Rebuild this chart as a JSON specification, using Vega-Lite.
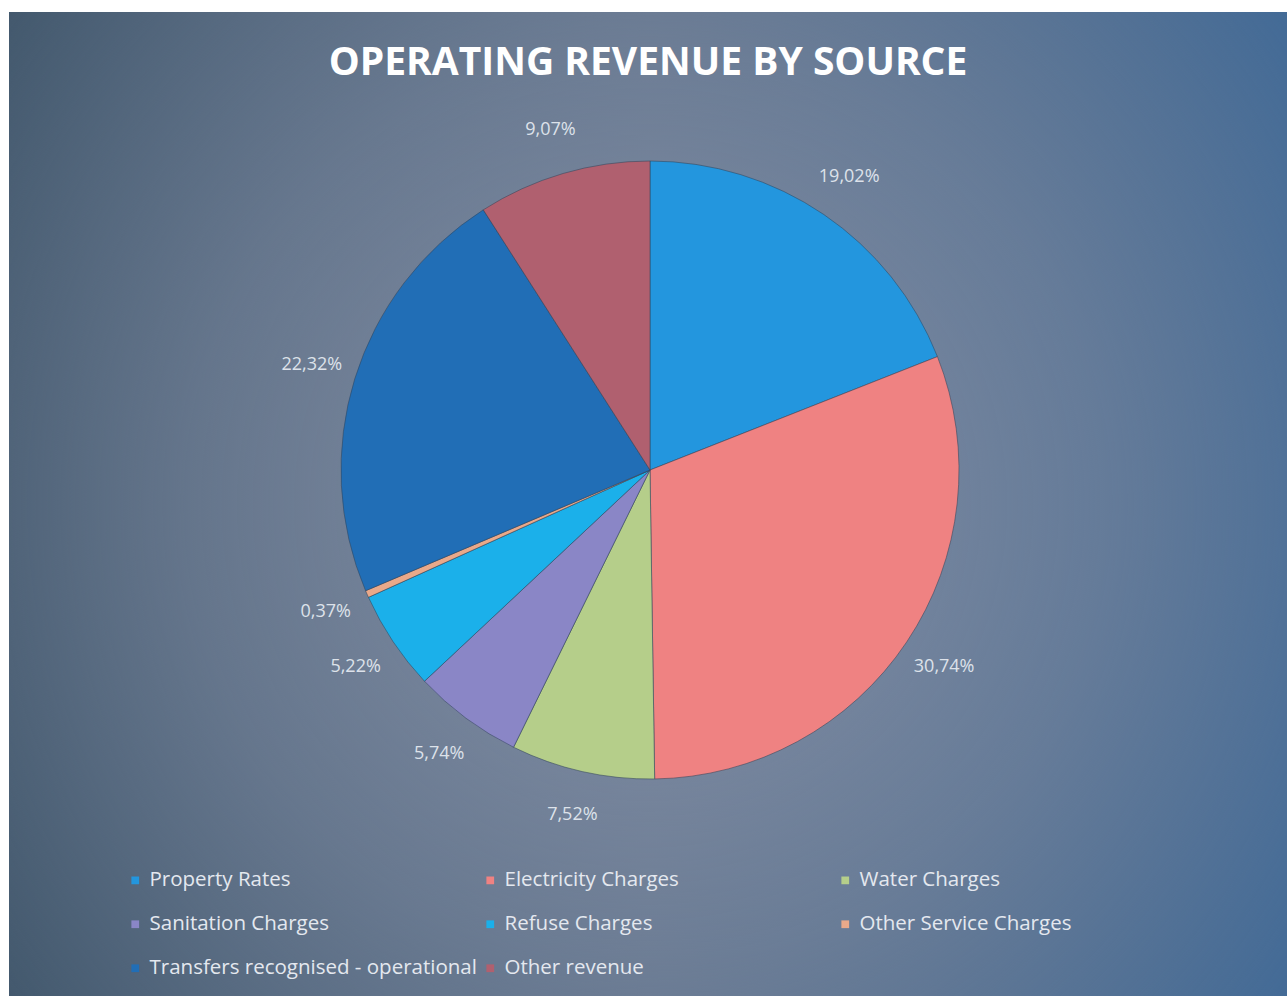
{
  "$schema": "https://vega.github.io/schema/vega-lite/v6.json",
  "autosize": {"type": "none"},
  "width": 1278,
  "height": 984,
  "padding": {"left": 9, "top": 12, "right": 0, "bottom": 0},
  "background": "#ffffff",
  "title": {
    "text": "OPERATING REVENUE BY SOURCE",
    "font": "Open Sans",
    "fontSize": 39,
    "fontWeight": "bold",
    "color": "#ffffff",
    "anchor": "middle",
    "offset": -71
  },
  "datasets": {
    "rev": [
      {"source": "Property Rates", "pct": 19.02, "label": "19,02%", "order": 1},
      {"source": "Electricity Charges", "pct": 30.74, "label": "30,74%", "order": 2},
      {"source": "Water Charges", "pct": 7.52, "label": "7,52%", "order": 3},
      {"source": "Sanitation Charges", "pct": 5.74, "label": "5,74%", "order": 4},
      {"source": "Refuse Charges", "pct": 5.22, "label": "5,22%", "order": 5},
      {"source": "Other Service Charges", "pct": 0.37, "label": "0,37%", "order": 6},
      {"source": "Transfers recognised - operational", "pct": 22.32, "label": "22,32%", "order": 7},
      {"source": "Other revenue", "pct": 9.07, "label": "9,07%", "order": 8}
    ]
  },
  "layer": [
    {
      "data": {"values": [{"bg": 1}]},
      "mark": {
        "type": "rect",
        "fill": {
          "gradient": "linear", "x1": 0, "y1": 0.5, "x2": 1, "y2": 0.5,
          "stops": [
            {"offset": 0, "color": "#3b5266"},
            {"offset": 0.5, "color": "#5a6f88"},
            {"offset": 1, "color": "#3b6796"}
          ]
        }
      },
      "encoding": {}
    },
    {
      "data": {"values": [{"bg": 1}]},
      "mark": {
        "type": "rect",
        "fill": {
          "gradient": "radial", "x1": 0.5, "y1": 0.5, "r1": 0, "x2": 0.5, "y2": 0.5, "r2": 0.72,
          "stops": [
            {"offset": 0, "color": "rgba(135,146,168,0.95)"},
            {"offset": 0.5, "color": "rgba(122,135,158,0.6)"},
            {"offset": 1, "color": "rgba(110,125,150,0)"}
          ]
        }
      },
      "encoding": {}
    },
    {
      "data": {"name": "rev"},
      "mark": {"type": "arc", "outerRadius": 309, "stroke": "#34465c", "strokeWidth": 0.8, "strokeOpacity": 0.7, "xOffset": 2, "yOffset": -34},
      "encoding": {
        "theta": {"field": "pct", "type": "quantitative", "stack": true},
        "order": {"field": "order", "type": "quantitative"},
        "color": {
          "field": "source", "type": "nominal",
          "scale": {
            "domain": ["Property Rates", "Electricity Charges", "Water Charges", "Sanitation Charges", "Refuse Charges", "Other Service Charges", "Transfers recognised - operational", "Other revenue"],
            "range": ["#2396de", "#ef8282", "#b5ce8a", "#8a86c6", "#1bb0ea", "#e9a98a", "#216eb6", "#b0606f"]
          },
          "legend": {
            "title": null,
            "orient": "none",
            "legendX": 116,
            "legendY": 858,
            "direction": "horizontal",
            "columns": 3,
            "gridAlign": "all",
            "columnPadding": 3,
            "rowPadding": 23,
            "padding": 0,
            "symbolType": "square",
            "symbolSize": 60,
            "symbolStrokeWidth": 0,
            "symbolOffset": 0,
            "labelOffset": 4,
            "labelFont": "Open Sans",
            "labelFontSize": 20.5,
            "labelColor": "#e4e8ef",
            "labelLimit": 400
          }
        }
      }
    },
    {
      "data": {"name": "rev"},
      "mark": {"type": "text", "radius": 354, "font": "Open Sans", "fontSize": 18, "color": "#dde2ea", "xOffset": 2, "yOffset": -34},
      "encoding": {
        "theta": {"field": "pct", "type": "quantitative", "stack": true},
        "order": {"field": "order", "type": "quantitative"},
        "text": {"field": "label", "type": "nominal"}
      }
    }
  ]
}
